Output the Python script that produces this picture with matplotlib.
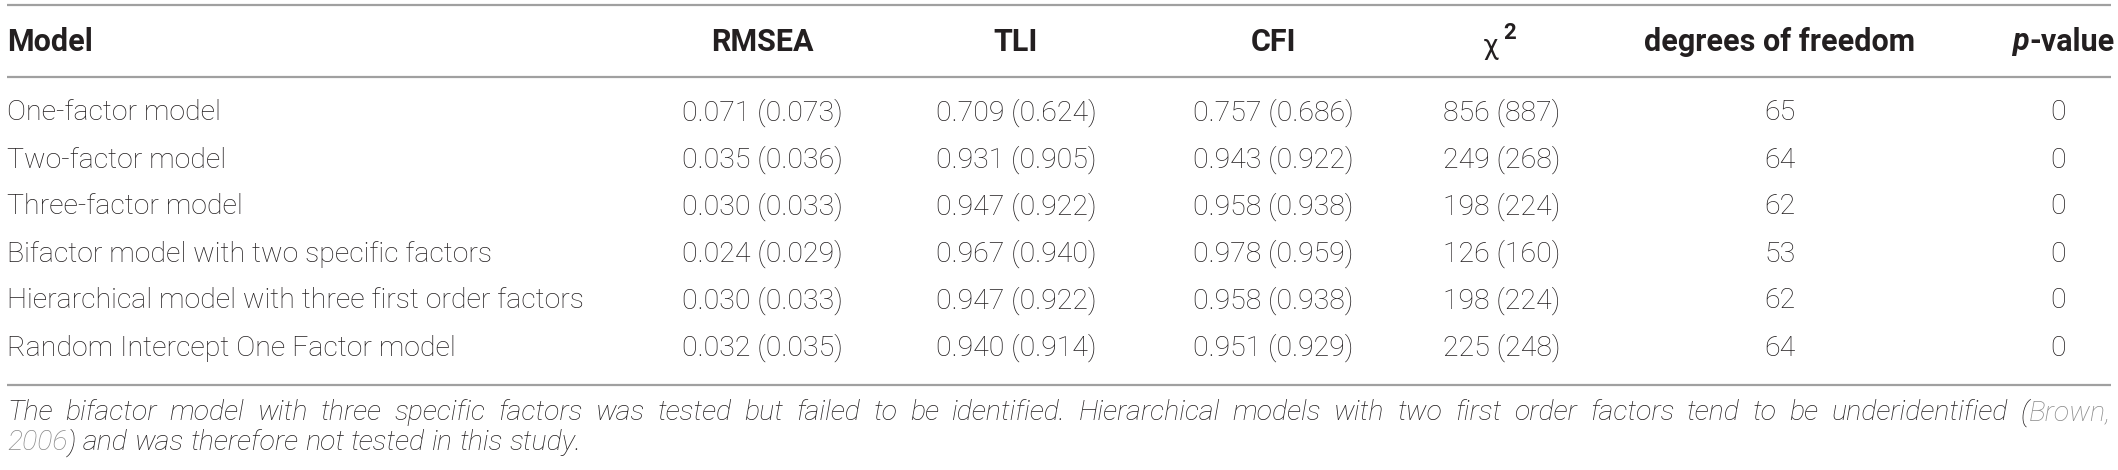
import matplotlib
matplotlib.use("Agg")
import matplotlib.pyplot as plt

models = [
    "One-factor model",
    "Two-factor model",
    "Three-factor model",
    "Bifactor model with two specific factors",
    "Hierarchical model with three first order factors",
    "Random Intercept One Factor model",
]
rmsea = ["0.071 (0.073)", "0.035 (0.036)", "0.030 (0.033)", "0.024 (0.029)", "0.030 (0.033)", "0.032 (0.035)"]
tli = ["0.709 (0.624)", "0.931 (0.905)", "0.947 (0.922)", "0.967 (0.940)", "0.947 (0.922)", "0.940 (0.914)"]
cfi = ["0.757 (0.686)", "0.943 (0.922)", "0.958 (0.938)", "0.978 (0.959)", "0.958 (0.938)", "0.951 (0.929)"]
chi2 = ["856 (887)", "249 (268)", "198 (224)", "126 (160)", "198 (224)", "225 (248)"]
dof = ["65", "64", "62", "53", "62", "64"]
pval = ["0", "0", "0", "0", "0", "0"]

note1 = [[("The", "d")], [("bifactor", "d")], [("model", "d")], [("with", "d")], [("three", "d")],
         [("specific", "d")], [("factors", "d")], [("was", "d")], [("tested", "d")], [("but", "d")],
         [("failed", "d")], [("to", "d")], [("be", "d")], [("identified.", "d")], [("Hierarchical", "d")],
         [("models", "d")], [("with", "d")], [("two", "d")], [("first", "d")], [("order", "d")],
         [("factors", "d")], [("tend", "d")], [("to", "d")], [("be", "d")], [("underidentified", "d")],
         [("(", "d"), ("Brown,", "g")]]
note2 = [[("2006", "g"), (")", "d")], [("and", "d")], [("was", "d")], [("therefore", "d")],
         [("not", "d")], [("tested", "d")], [("in", "d")], [("this", "d")], [("study.", "d")]]

W, H = 2118, 470
dark = "#231f20"
grey_link = "#8a8a8a"
line_c = "#a0a0a0"
fam = "Roboto"
fs = 20.5
fs_h = 22

fig = plt.figure(figsize=(W / 100, H / 100), dpi=100)
ax = fig.add_axes([0, 0, 1, 1])
ax.set_xlim(0, W)
ax.set_ylim(H, 0)
ax.axis("off")

left, right = 7, 2111
for y in (5, 77, 385):
    ax.plot([left, right], [y, y], color=line_c, lw=1.6, solid_capstyle="butt")

col_x = [762, 1016, 1273, 1502, 1780, 2058]
hdr_y = 42
ax.text(left, hdr_y, "Model", ha="left", va="center", fontsize=fs_h, fontweight="bold",
        family=fam, color=dark)
for x, h in zip(col_x, ["RMSEA", "TLI", "CFI", None, "degrees of freedom", None]):
    if h:
        ax.text(x, hdr_y, h, ha="center", va="center", fontsize=fs_h, fontweight="bold",
                family=fam, color=dark)
ax.text(col_x[3] - 3, hdr_y + 4, "χ", ha="right", va="center", fontsize=fs, family=fam, color=dark)
ax.text(col_x[3] + 1, hdr_y - 9, "2", ha="left", va="center", fontsize=fs * 0.78,
        fontweight="bold", family=fam, color=dark)
ax.text(col_x[5] - 29, hdr_y, "p", ha="right", va="center", fontsize=fs_h, fontweight="bold",
        style="italic", family=fam, color=dark)
ax.text(col_x[5] - 29, hdr_y, "-value", ha="left", va="center", fontsize=fs_h, fontweight="bold",
        family=fam, color=dark)

row_y0, row_dy = 113, 47
for i, m in enumerate(models):
    y = row_y0 + i * row_dy
    ax.text(left, y, m, ha="left", va="center", fontsize=fs, fontweight="light",
            family=fam, color=dark)
    for x, col in zip(col_x, [rmsea, tli, cfi, chi2, dof, pval]):
        ax.text(x, y, col[i], ha="center", va="center", fontsize=fs, fontweight="light",
                family=fam, color=dark)

# footnote, first line justified
renderer = fig.canvas.get_renderer()
cmap = {"d": dark, "g": grey_link}


def piece_width(s):
    t = ax.text(0, 0, s, fontsize=fs, style="italic", fontweight="light", family=fam)
    w = t.get_window_extent(renderer).width
    t.remove()
    return w


def draw_line(words, y, justify):
    widths = [[piece_width(s) for s, _ in w] for w in words]
    total = sum(sum(w) for w in widths)
    space = piece_width("a a") - piece_width("aa")
    gap = (right - left - total) / (len(words) - 1) if justify else space
    x = left
    for w, ws in zip(words, widths):
        for (s, c), pw in zip(w, ws):
            ax.text(x, y, s, ha="left", va="center", fontsize=fs, style="italic",
                    fontweight="light", family=fam, color=cmap[c])
            x += pw
        x += gap


draw_line(note1, 413, True)
draw_line(note2, 443, False)

fig.savefig("out.png", dpi=100)
